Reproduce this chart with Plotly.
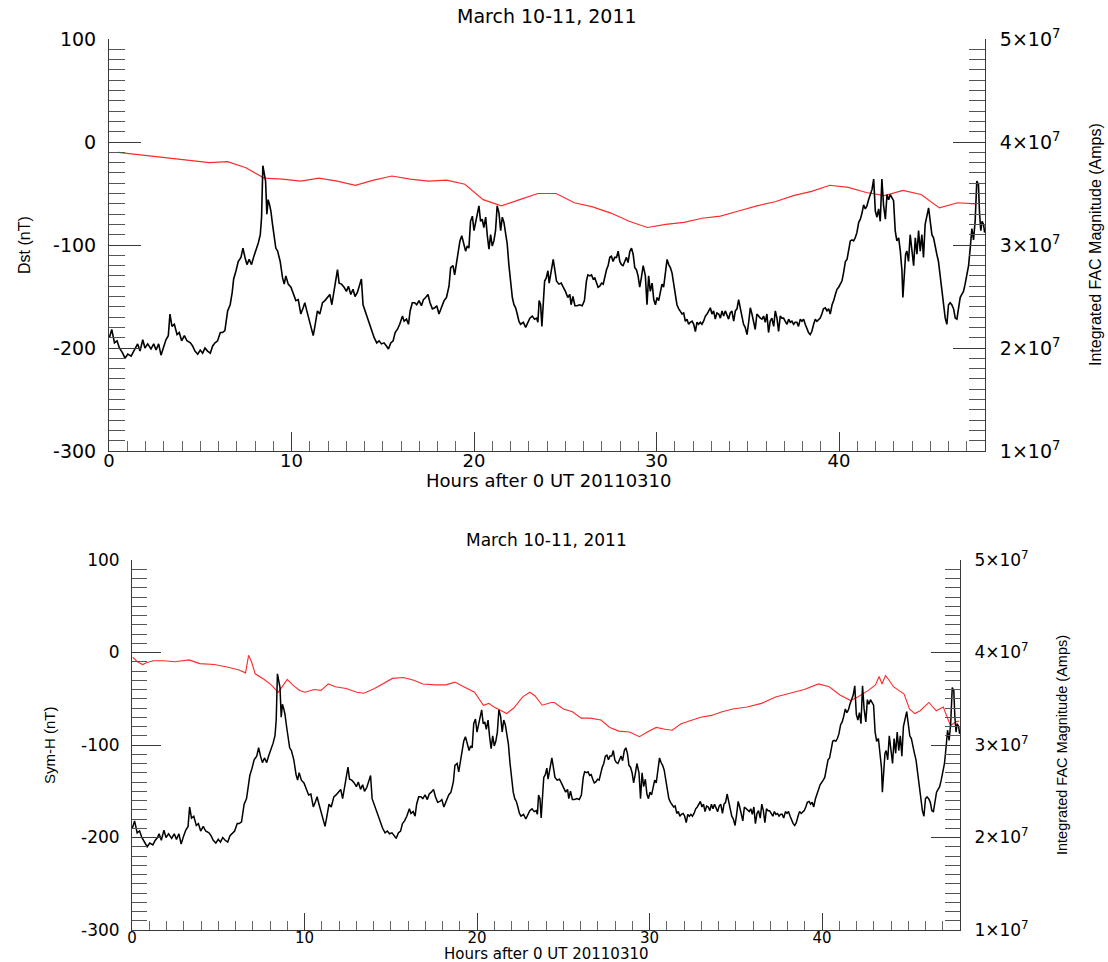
import plotly.graph_objects as go

# ---------------- data ----------------
title_text = "March 10-11, 2011"
x_title = "Hours after 0 UT 20110310"
fac_title = "Integrated FAC Magnitude (Amps)"
dst_title = "Dst (nT)"
symh_title = "Sym-H (nT)"

x_tickvals = [0, 10, 20, 30, 40]
y_tickvals = [-300, -200, -100, 0, 100]
y_ticktext = ["-300", "-200", "-100", "0", "100"]
fac_tickvals = [1e7, 2e7, 3e7, 4e7, 5e7]
fac_ticktext = ["1\u00d710<sup>7</sup>", "2\u00d710<sup>7</sup>", "3\u00d710<sup>7</sup>",
                "4\u00d710<sup>7</sup>", "5\u00d710<sup>7</sup>"]

# Integrated FAC magnitude (units of 1e7 A), same in both panels
fac_hours = [
    0.02, 0.15, 0.30, 0.44, 0.57, 0.75, 0.88, 1.03, 1.21, 1.35, 1.48, 1.57, 1.70, 1.85, 1.97,
    2.12, 2.30, 2.45, 2.58, 2.72, 2.85, 3.00, 3.12, 3.25, 3.34, 3.45, 3.58, 3.73, 3.85, 3.98,
    4.13, 4.27, 4.46, 4.58, 4.71, 4.86, 5.00, 5.13, 5.26, 5.40, 5.55, 5.68, 5.81, 5.95, 6.10,
    6.22, 6.35, 6.50, 6.64, 6.75, 6.83, 6.96, 7.08, 7.23, 7.34, 7.45, 7.56, 7.68, 7.81, 7.92,
    8.05, 8.18, 8.29, 8.36, 8.43, 8.51, 8.58, 8.65, 8.72, 8.80, 8.87, 8.96, 9.05, 9.14, 9.24,
    9.38, 9.51, 9.60,
    9.69, 9.82, 9.97, 10.11, 10.24, 10.37, 10.51, 10.64, 10.73, 10.84, 10.97, 11.10, 11.19,
    11.30, 11.42, 11.55, 11.70, 11.83, 11.97, 12.10, 12.21, 12.34, 12.43, 12.52, 12.61, 12.74,
    12.88, 13.01, 13.12, 13.25, 13.37, 13.48, 13.61, 13.74, 13.83, 13.92, 14.03, 14.16, 14.29,
    14.40, 14.53, 14.67, 14.80, 14.93, 15.07, 15.20, 15.31, 15.44, 15.57, 15.68, 15.80, 15.93,
    16.08, 16.17, 16.30, 16.41, 16.50, 16.62, 16.75, 16.86, 16.99, 17.12, 17.23, 17.35, 17.48,
    17.59, 17.72, 17.85, 17.96, 18.08, 18.21, 18.36, 18.49, 18.63, 18.72, 18.85, 18.94, 19.03,
    19.14, 19.23, 19.33, 19.45,
    19.54, 19.63, 19.72, 19.81, 19.91, 20.00, 20.09, 20.18, 20.27, 20.36, 20.45, 20.54, 20.64,
    20.73, 20.82, 20.91, 21.00, 21.09, 21.18, 21.27, 21.37, 21.46, 21.55, 21.64, 21.73, 21.82,
    21.91, 22.00, 22.10, 22.19, 22.28, 22.37, 22.46, 22.55, 22.70, 22.83, 22.95, 23.06, 23.19,
    23.32, 23.43, 23.50, 23.57, 23.65, 23.72, 23.79, 23.87, 23.96, 24.05, 24.12, 24.23, 24.34,
    24.41, 24.52, 24.65, 24.78, 24.89, 25.01, 25.14, 25.25, 25.32, 25.42, 25.53, 25.65, 25.78,
    25.93, 26.05, 26.16, 26.24, 26.35, 26.44, 26.53, 26.62, 26.71, 26.80, 26.89, 26.99, 27.08,
    27.17, 27.26, 27.35, 27.44, 27.53, 27.62, 27.71, 27.81, 27.90, 27.99, 28.08, 28.17, 28.26,
    28.35, 28.44, 28.54, 28.63, 28.72, 28.81, 28.90, 28.99, 29.08, 29.17, 29.27,
    29.39, 29.48, 29.57, 29.66, 29.76, 29.85, 29.94, 30.03, 30.12, 30.21, 30.30, 30.39, 30.49,
    30.58, 30.67, 30.76, 30.85, 30.94, 31.03, 31.12, 31.22, 31.31, 31.40, 31.49, 31.58, 31.67,
    31.76, 31.85, 31.95, 32.04, 32.13, 32.22, 32.31, 32.40, 32.49, 32.58, 32.68, 32.77, 32.86,
    32.95, 33.04, 33.13, 33.22, 33.31, 33.41, 33.50, 33.59, 33.68, 33.77, 33.86, 33.95, 34.04,
    34.13, 34.23, 34.32, 34.41, 34.50, 34.59, 34.68, 34.77, 34.86, 34.96, 35.05, 35.14, 35.23,
    35.32, 35.41, 35.50, 35.59, 35.69, 35.78, 35.87, 35.96, 36.05, 36.14, 36.23, 36.32, 36.42,
    36.51, 36.60, 36.69, 36.78, 36.87, 36.96, 37.05, 37.15, 37.24, 37.33, 37.42, 37.51, 37.60,
    37.69, 37.78, 37.88, 37.97, 38.06, 38.15, 38.24, 38.33, 38.42, 38.51, 38.61, 38.70, 38.79,
    38.88, 38.97, 39.06, 39.15,
    39.25, 39.34, 39.43, 39.52, 39.62, 39.71, 39.80, 39.89, 39.98, 40.07, 40.16, 40.25, 40.35,
    40.44, 40.53, 40.62, 40.71, 40.80, 40.89, 40.98, 41.08, 41.17, 41.26, 41.35, 41.44, 41.53,
    41.62, 41.71, 41.81, 41.90, 41.99, 42.08, 42.17, 42.26, 42.35, 42.44, 42.54, 42.63, 42.72,
    42.81, 42.90, 42.99, 43.08, 43.17, 43.27, 43.36, 43.45, 43.50, 43.58, 43.65, 43.72, 43.81,
    43.90, 43.99, 44.09, 44.18, 44.27, 44.36, 44.45, 44.54, 44.63, 44.72, 44.82, 44.91, 45.00,
    45.09, 45.18, 45.27, 45.36, 45.45, 45.55, 45.64, 45.73, 45.82, 45.91, 46.00, 46.09, 46.18,
    46.28, 46.37, 46.46, 46.55, 46.64, 46.73, 46.82, 46.91, 47.01, 47.10, 47.19, 47.28, 47.37,
    47.46, 47.55, 47.64, 47.70, 47.77, 47.84, 47.92, 47.98,
]
fac_values_e7 = [
    2.10, 2.18, 2.05, 2.07, 2.00, 1.95, 1.90, 1.94, 1.92, 1.97, 2.00, 2.04, 1.97, 2.08, 2.00,
    2.04, 1.99, 2.04, 1.98, 2.04, 1.93, 2.02, 2.08, 2.12, 2.33, 2.21, 2.23, 2.13, 2.15, 2.07,
    2.12, 2.07, 2.05, 2.02, 1.97, 1.94, 1.98, 1.95, 2.00, 1.97, 1.95, 2.02, 2.05, 2.07, 2.15,
    2.15, 2.17, 2.36, 2.42, 2.54, 2.67, 2.75, 2.84, 2.88, 2.97, 2.88, 2.81, 2.86, 2.81, 2.88,
    2.94, 3.02, 3.10, 3.27, 3.77, 3.67, 3.62, 3.30, 3.44, 3.39, 3.33, 3.20, 3.07, 2.97, 2.94,
    2.84, 2.68, 2.62,
    2.70, 2.62, 2.59, 2.52, 2.46, 2.47, 2.33, 2.39, 2.44, 2.36, 2.26, 2.16, 2.12,
    2.23, 2.36, 2.33, 2.44, 2.46, 2.49, 2.52, 2.42, 2.55, 2.65, 2.76, 2.63, 2.62,
    2.59, 2.55, 2.60, 2.52, 2.57, 2.50, 2.54, 2.62, 2.67, 2.42, 2.36, 2.29, 2.23,
    2.16, 2.10, 2.05, 2.07, 2.04, 2.05, 2.02, 1.99, 2.05, 2.07, 2.15, 2.18, 2.23,
    2.31, 2.26, 2.28, 2.23, 2.36, 2.44, 2.44, 2.42, 2.46, 2.41, 2.47, 2.49, 2.52,
    2.44, 2.38, 2.39, 2.41, 2.33, 2.39, 2.46, 2.49, 2.60, 2.78, 2.80, 2.71, 2.81,
    2.91, 3.04, 3.09, 3.01,
    2.94, 2.99, 2.97, 3.23, 3.28, 3.14, 3.22, 3.33, 3.38, 3.23, 3.25, 3.17, 3.27,
    3.09, 2.96, 3.10, 2.99, 3.04, 3.14, 3.38, 3.31, 3.14, 3.27, 3.22, 3.10, 3.01,
    2.81, 2.62, 2.49, 2.42, 2.39, 2.33, 2.26, 2.23, 2.25, 2.20, 2.25, 2.29, 2.31,
    2.28, 2.29, 2.25, 2.46, 2.42, 2.21, 2.46, 2.65, 2.68, 2.75, 2.63, 2.75, 2.86,
    2.78, 2.65, 2.62, 2.63, 2.59, 2.55, 2.49, 2.52, 2.42, 2.50, 2.41, 2.41, 2.42,
    2.41, 2.46, 2.65, 2.71, 2.70, 2.71, 2.67, 2.68, 2.63, 2.59, 2.60, 2.63, 2.62,
    2.71, 2.76, 2.80, 2.88, 2.89, 2.84, 2.88, 2.88, 2.94, 2.84, 2.81, 2.80, 2.84,
    2.88, 2.83, 2.94, 2.97, 2.91, 2.78, 2.76, 2.70, 2.59, 2.68, 2.80,
    2.70, 2.42, 2.70, 2.55, 2.63, 2.47, 2.42, 2.49, 2.46, 2.55, 2.62, 2.59, 2.75,
    2.86, 2.81, 2.78, 2.73, 2.63, 2.55, 2.42, 2.38, 2.36, 2.33, 2.34, 2.26, 2.28,
    2.23, 2.25, 2.26, 2.23, 2.16, 2.25, 2.23, 2.25, 2.23, 2.26, 2.31, 2.33, 2.36,
    2.39, 2.33, 2.36, 2.28, 2.34, 2.33, 2.29, 2.36, 2.31, 2.36, 2.31, 2.28, 2.34,
    2.36, 2.26, 2.36, 2.38, 2.47, 2.39, 2.31, 2.23, 2.20, 2.13, 2.25, 2.39, 2.33,
    2.26, 2.18, 2.33, 2.31, 2.29, 2.28, 2.31, 2.25, 2.33, 2.15, 2.26, 2.29, 2.21,
    2.36, 2.29, 2.16, 2.31, 2.29, 2.29, 2.26, 2.23, 2.28, 2.25, 2.26, 2.23, 2.25,
    2.25, 2.21, 2.28, 2.26, 2.28, 2.23, 2.18, 2.15, 2.13, 2.16, 2.23, 2.28, 2.26,
    2.28, 2.29, 2.33, 2.38,
    2.39, 2.36, 2.38, 2.33, 2.42, 2.46, 2.52, 2.57, 2.59, 2.62, 2.65, 2.73, 2.84,
    2.86, 2.94, 3.04, 3.05, 3.04, 3.07, 3.12, 3.22, 3.25, 3.31, 3.39, 3.35, 3.38,
    3.44, 3.49, 3.54, 3.64, 3.33, 3.27, 3.35, 3.23, 3.64, 3.39, 3.25, 3.49, 3.44,
    3.49, 3.46, 3.43, 3.14, 3.04, 3.07, 2.94, 2.75, 2.49, 2.71, 2.91, 2.94, 2.84,
    3.10, 2.97, 2.80, 3.07, 2.91, 3.14, 2.94, 3.10, 2.88, 3.20, 3.30, 3.36, 3.23,
    3.10, 3.07, 2.97, 2.91, 2.84, 2.68, 2.52, 2.39, 2.29, 2.23, 2.42, 2.44, 2.42,
    2.38, 2.29, 2.28, 2.39, 2.49, 2.52, 2.55, 2.62, 2.71, 2.80, 2.97, 3.16, 3.05,
    3.23, 3.62, 3.59, 3.31, 3.14, 3.23, 3.20, 3.12,
]

# Hourly Dst (nT), top panel
dst_hours = [h + 0.5 for h in range(48)]
dst_values = [
    -10, -12, -14, -16, -18, -20, -19, -25, -35, -36, -38, -35,
    -38, -42, -37, -33, -36, -38, -37, -41, -56, -62, -56, -50,
    -50, -59, -63, -69, -77, -83, -80, -78, -74, -72, -67, -62,
    -58, -52, -48, -42, -44, -49, -52, -47, -51, -64, -59, -60,
]

# Sym-H (nT), bottom panel
symh_hours = [
    0.04, 0.31, 0.62, 0.83, 1.24, 1.86, 2.48, 3.31, 3.93, 4.76, 5.58, 6.20, 6.58, 6.76, 6.93,
    7.14, 7.65, 8.07, 8.48, 8.79, 9.00, 9.31, 9.72, 10.03, 10.55, 10.96, 11.38, 11.79, 12.41,
    13.03, 13.44, 14.06, 14.68, 15.10, 15.72, 16.34, 16.86, 17.58, 18.20, 18.72, 19.23, 19.86,
    20.37, 20.68, 20.99, 21.30, 21.72, 22.13, 22.65, 23.06, 23.37, 23.78, 24.30, 24.49, 25.01,
    25.53, 26.04, 26.56, 27.18, 27.70, 28.22, 28.84, 29.42, 29.87, 30.39, 30.90, 31.32, 31.83,
    32.35, 32.97, 33.59, 34.21, 34.83, 35.66, 36.49, 37.31, 38.14, 38.97, 39.80, 40.42, 41.04,
    41.66, 42.07, 42.69, 43.10, 43.31, 43.48, 43.68, 43.89, 44.14, 44.45, 44.76, 45.07, 45.38,
    45.69, 46.20, 46.62, 47.03, 47.45, 47.76, 47.96,
]
symh_values = [
    -5, -10, -13, -11, -9, -9, -10, -8, -12, -13, -16, -19, -22, -3, -10,
    -23, -29, -35, -43, -34, -29, -35, -41, -43, -40, -41, -34, -37, -39,
    -43, -44, -39, -32, -28, -27, -30, -34, -35, -35, -32, -37, -43,
    -57, -55, -59, -62, -66, -60, -48, -43, -47, -57, -54, -54, -61,
    -64, -71, -71, -73, -81, -85, -86, -91, -86, -81, -83, -84, -77,
    -74, -70, -68, -64, -61, -59, -55, -48, -44, -40, -34, -37, -46,
    -52, -48, -41, -35, -26, -34, -25, -30, -37, -41, -45, -61, -66,
    -63, -54, -63, -59, -79, -75, -74,
]

fac_amps = [v * 1e7 for v in fac_values_e7]

# ---------------- figure ----------------
W, H = 1108, 962
AX = "#3a3a3a"
FONT = "DejaVu Sans"
ROT = "Liberation Sans"

fig = go.Figure()

# top panel
fig.add_trace(go.Scatter(x=fac_hours, y=fac_amps, mode="lines", xaxis="x", yaxis="y2",
                         line=dict(color="black", width=1.6), showlegend=False))
fig.add_trace(go.Scatter(x=dst_hours, y=dst_values, mode="lines", xaxis="x", yaxis="y",
                         line=dict(color="#ff2a2a", width=1.2), showlegend=False))
# bottom panel
fig.add_trace(go.Scatter(x=fac_hours, y=fac_amps, mode="lines", xaxis="x2", yaxis="y4",
                         line=dict(color="black", width=1.5), showlegend=False))
fig.add_trace(go.Scatter(x=symh_hours, y=symh_values, mode="lines", xaxis="x2", yaxis="y3",
                         line=dict(color="#ff2a2a", width=1.1), showlegend=False))


def xax(domain, anchor, fs, majlen, minlen, standoff):
    return dict(domain=domain, anchor=anchor, range=[0, 48], showline=True, linecolor=AX,
                linewidth=1, mirror=False, showgrid=False, zeroline=False, automargin=False,
                ticks="inside", ticklen=majlen, tickwidth=1, tickcolor=AX,
                tickvals=x_tickvals, tickfont=dict(family=FONT, size=fs, color="black"),
                ticklabelstandoff=standoff,
                minor=dict(ticks="inside", ticklen=minlen, dtick=1, tick0=0, tickcolor="#666",
                           tickwidth=1, showgrid=False))


def yleft(domain, anchor, fs, majlen, minlen):
    return dict(domain=domain, anchor=anchor, range=[-300, 100], showline=True, linecolor=AX,
                linewidth=1, showgrid=False, zeroline=False, automargin=False,
                ticks="inside", ticklen=majlen, tickwidth=1, tickcolor=AX,
                tickvals=y_tickvals, ticktext=y_ticktext,
                tickfont=dict(family=FONT, size=fs, color="black"), ticklabelstandoff=8,
                minor=dict(ticks="inside", ticklen=minlen, dtick=10, tick0=0, tickcolor="#555",
                           tickwidth=1, showgrid=False))


def yright(overlay, anchor, fs, majlen, minlen):
    return dict(overlaying=overlay, anchor=anchor, side="right", range=[1e7, 5e7],
                showline=True, linecolor=AX, linewidth=1, showgrid=False, zeroline=False,
                automargin=False, ticks="inside", ticklen=majlen, tickwidth=1, tickcolor=AX,
                tickvals=fac_tickvals, ticktext=fac_ticktext,
                tickfont=dict(family=FONT, size=fs, color="black"), ticklabelstandoff=10,
                minor=dict(ticks="inside", ticklen=minlen, dtick=1e6, tick0=0, tickcolor="#555",
                           tickwidth=1, showgrid=False))


top_x = [109 / W, 985 / W]
top_y = [1 - 451 / H, 1 - 39 / H]
bot_x = [132 / W, 960 / W]
bot_y = [1 - 930 / H, 1 - 560 / H]

fig.update_layout(
    width=W, height=H, margin=dict(l=0, r=0, t=0, b=0, autoexpand=False),
    paper_bgcolor="white", plot_bgcolor="white",
    xaxis=xax(top_x, "y", 18, 19, 10, -7),
    yaxis=yleft(top_y, "x", 19, 32, 16),
    yaxis2=yright("y", "x", 19, 32, 16),
    xaxis2=xax(bot_x, "y3", 15, 17, 9, -6),
    yaxis3=yleft(bot_y, "x2", 17, 29, 15),
    yaxis4=yright("y3", "x2", 17, 29, 15),
)

annots = [
    dict(text=title_text, x=547 / W, y=1 - 16 / H, font=dict(family=FONT, size=19)),
    dict(text=title_text, x=546 / W, y=1 - 540 / H, font=dict(family=FONT, size=17)),
    dict(text=x_title, x=548 / W, y=1 - 480 / H, font=dict(family=FONT, size=18)),
    dict(text=x_title, x=546 / W, y=1 - 953.5 / H, font=dict(family=FONT, size=15)),
    dict(text=dst_title, x=24 / W, y=1 - 245 / H, textangle=-90,
         font=dict(family=ROT, size=16)),
    dict(text=symh_title, x=49 / W, y=1 - 745 / H, textangle=-90,
         font=dict(family=ROT, size=15)),
    dict(text=fac_title, x=1095 / W, y=1 - 245 / H, textangle=-90,
         font=dict(family=ROT, size=16)),
    dict(text=fac_title, x=1062 / W, y=1 - 745 / H, textangle=-90,
         font=dict(family=ROT, size=14.5)),
]
for a in annots:
    a["font"]["color"] = "black"
    a.update(xref="paper", yref="paper", showarrow=False, xanchor="center", yanchor="middle")
fig.update_layout(annotations=annots)

fig.write_html(
    "out.html",
    config={"displayModeBar": False},
    post_script="document.body.style.margin='0';document.body.style.overflow='hidden';",
)
